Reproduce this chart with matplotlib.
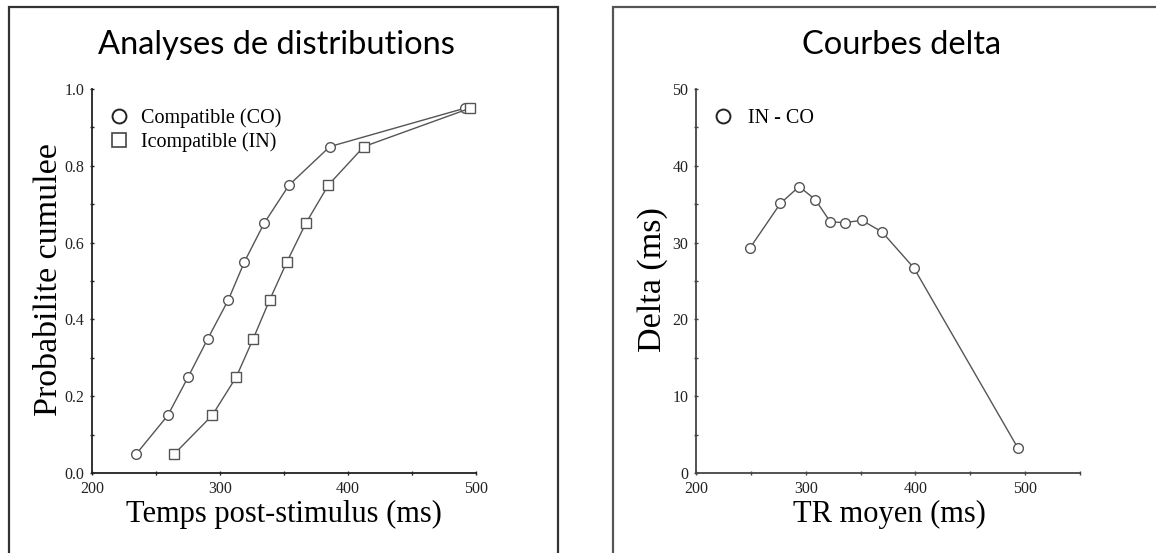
import matplotlib.pyplot as plt
from matplotlib.lines import Line2D
from matplotlib.patches import Rectangle
from matplotlib.ticker import MultipleLocator

# cumulative probability quantiles
quantiles = [0.05, 0.15, 0.25, 0.35, 0.45, 0.55, 0.65, 0.75, 0.85, 0.95]
rt_compatible = [234.7, 259.2, 275.1, 290.5, 306.4, 319.1, 334.4, 354.0, 385.8, 491.3]
rt_incompatible = [264.4, 293.9, 312.7, 326.0, 338.7, 352.3, 367.0, 384.7, 412.4, 495.4]

# delta plot (IN - CO) against mean RT
rt_mean = [249.2, 276.9, 294.0, 308.7, 322.4, 335.4, 351.2, 369.5, 398.6, 493.6]
delta = [29.3, 35.1, 37.3, 35.6, 32.7, 32.6, 32.9, 31.4, 26.7, 3.2]

W, H = 1156, 553
fig = plt.figure(figsize=(W / 100, H / 100), dpi=100)

serif = ['Liberation Serif', 'DejaVu Serif']
title_font = ['Lato', 'DejaVu Sans']
line_col = '#555555'


def px_box(x0, y0, x1, y1):
    return [x0 / W, 1 - y1 / H, (x1 - x0) / W, (y1 - y0) / H]


# panel frames
fig.add_artist(Rectangle((9 / W, -0.05), (558 - 9) / W, 1.05 - 7 / H,
                         transform=fig.transFigure, fill=False,
                         edgecolor='#333333', linewidth=1.6))
fig.add_artist(Rectangle((613 / W, -0.05), 1.0, 1.05 - 7 / H,
                         transform=fig.transFigure, fill=False,
                         edgecolor='#555555', linewidth=1.6))

ax1 = fig.add_axes(px_box(92, 89, 476, 473))
ax2 = fig.add_axes(px_box(696, 89, 1080, 473))


def style_axes(ax, spine_col):
    for side in ('top', 'right'):
        ax.spines[side].set_visible(False)
    for side in ('left', 'bottom'):
        ax.spines[side].set_color(spine_col)
        ax.spines[side].set_linewidth(1.3)
    ax.tick_params(which='both', direction='inout', length=3, width=1,
                   color=spine_col, labelsize=11.5, labelcolor='#222222')
    ax.tick_params(axis='x', pad=4)
    ax.tick_params(axis='y', pad=4)
    for lab in ax.get_xticklabels() + ax.get_yticklabels():
        lab.set_family(serif)


# left panel: cumulative distributions
ax1.plot(rt_compatible, quantiles, color=line_col, lw=1.0, marker='o',
         ms=7, mfc='white', mec=line_col, mew=1.0)
ax1.plot(rt_incompatible, quantiles, color=line_col, lw=1.0, marker='s',
         ms=7, mfc='white', mec=line_col, mew=1.0)
ax1.set_xlim(200, 500)
ax1.set_ylim(0, 1)
ax1.xaxis.set_major_locator(MultipleLocator(100))
ax1.xaxis.set_minor_locator(MultipleLocator(50))
ax1.yaxis.set_major_locator(MultipleLocator(0.2))
ax1.yaxis.set_minor_locator(MultipleLocator(0.1))
ax1.yaxis.set_major_formatter(lambda v, p: f'{v:.1f}')
style_axes(ax1, '#222222')

handles1 = [
    Line2D([], [], ls='none', marker='o', ms=10, mfc='white', mec='#222222', mew=1.4),
    Line2D([], [], ls='none', marker='s', ms=10, mfc='white', mec='#444444', mew=1.2),
]
ax1.legend(handles1, ['Compatible (CO)', 'Icompatible (IN)'], loc='upper left',
           bbox_to_anchor=(0.018, 0.975), frameon=False, borderpad=0,
           handlelength=1.0, handletextpad=0.6, labelspacing=0.2,
           prop={'family': serif, 'size': 14.5})

fig.text(276 / W, 1 - 45 / H, 'Analyses de distributions', family=title_font,
         fontsize=23.5, ha='center', va='center')
fig.text(49 / W, 1 - 280 / H, 'Probabilite cumulee', family=serif,
         fontsize=24.5, rotation=90, ha='center', va='center')
fig.text(284 / W, 1 - 514 / H, 'Temps post-stimulus (ms)', family=serif,
         fontsize=22, ha='center', va='center')

# right panel: delta curve
ax2.plot(rt_mean, delta, color=line_col, lw=1.0, marker='o',
         ms=7, mfc='white', mec=line_col, mew=1.0)
ax2.set_xlim(200, 550)
ax2.set_ylim(0, 50)
ax2.set_xticks([200, 300, 400, 500])
ax2.xaxis.set_minor_locator(MultipleLocator(50))
ax2.yaxis.set_major_locator(MultipleLocator(10))
ax2.yaxis.set_minor_locator(MultipleLocator(5))
style_axes(ax2, '#444444')

handles2 = [Line2D([], [], ls='none', marker='o', ms=10, mfc='white',
                   mec='#222222', mew=1.4)]
ax2.legend(handles2, ['IN - CO'], loc='upper left',
           bbox_to_anchor=(0.018, 0.975), frameon=False, borderpad=0,
           handlelength=1.0, handletextpad=0.75,
           prop={'family': serif, 'size': 14.5})

fig.text(902 / W, 1 - 45 / H, 'Courbes delta', family=title_font,
         fontsize=23.5, ha='center', va='center')
fig.text(653 / W, 1 - 280 / H, 'Delta (ms)', family=serif,
         fontsize=24.5, rotation=90, ha='center', va='center')
fig.text(889 / W, 1 - 514 / H, 'TR moyen (ms)', family=serif,
         fontsize=22, ha='center', va='center')

fig.savefig('out.png', dpi=100)
